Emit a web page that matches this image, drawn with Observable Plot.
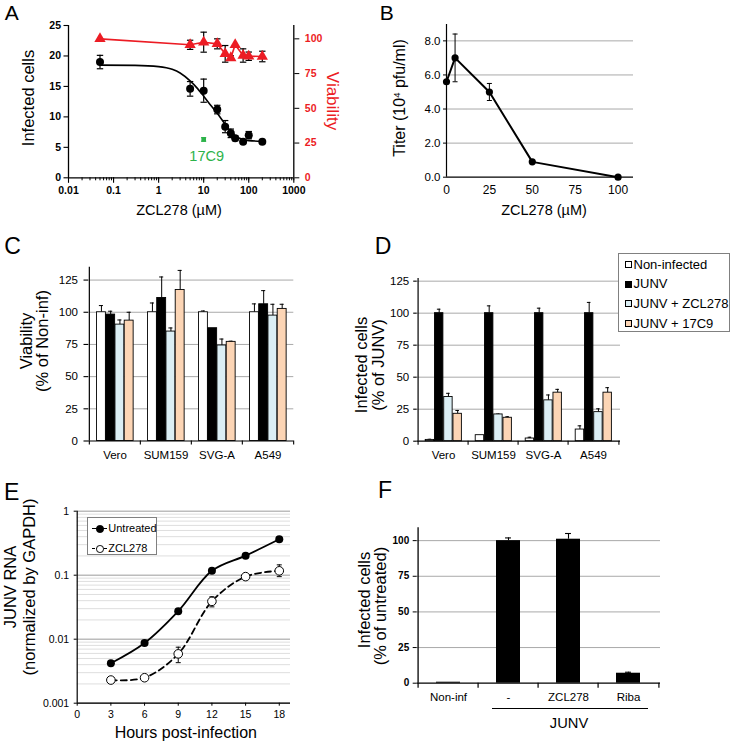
<!DOCTYPE html>
<html><head><meta charset="utf-8">
<script src="https://cdn.jsdelivr.net/npm/d3@7"></script>
<script src="https://cdn.jsdelivr.net/npm/@observablehq/plot@0.6"></script>
<style>
body{margin:0;background:#fff}
#root{position:relative;width:733px;height:743px;background:#fff;overflow:hidden;font-family:"Liberation Sans",Arial,sans-serif;color:#000}
.lbl{position:absolute;white-space:nowrap;line-height:1.1}
.panel{position:absolute}
sup{font-size:0.6em;vertical-align:0.55em;line-height:0}
</style></head><body><div id="root"></div>
<script>
// ---------- DATA ----------
// Panel A
const aDoses = [0.05, 5, 10, 20, 30, 40, 50, 75, 100, 200];
const aInfected = [19.0, 14.6, 14.3, 11.2, 8.4, 7.3, 6.5, 5.9, 7.0, 5.9];
const aInfectedErr = [1.1, 1.2, 1.9, 0.7, 1.0, 0.7, 0.4, 0, 0.6, 0];
const aViability = [100, 95.7, 97.6, 96.4, 89.2, 86.3, 95.7, 88.0, 87.5, 87.3];
const aViabilityErr = [0, 3.3, 7.2, 3.6, 6, 1.5, 0, 4.8, 3, 3.8];
const aFitDose = [0.05, 0.3, 1, 2, 3, 5, 7, 10, 14, 20, 30, 40, 50, 75, 100, 200];
const aFitInfected = [18.5, 18.45, 18.25, 17.8, 17.2, 15.9, 14.8, 13.4, 12.0, 10.6, 8.8, 7.6, 6.9, 6.3, 6.1, 6.0];
const a17C9Dose = [10];
const a17C9Infected = [6.3];
const a17C9Err = [0.3];
const aXTicks = [0.01, 0.1, 1, 10, 100, 1000];
const aYTicks = [0, 5, 10, 15, 20, 25];
const aViaTicks = [0, 25, 50, 75, 100];
// Panel B
const bDoses = [0, 5, 25, 50, 100];
const bTiter = [5.6, 7.0, 5.0, 0.9, 0.0];
const bTiterErr = [0, 1.4, 0.5, 0, 0];
const bXTicks = [0, 25, 50, 75, 100];
const bYTicks = [0, 2, 4, 6, 8];
// Panels C & D
const cellLines = ["Vero", "SUM159", "SVG-A", "A549"];
const treatments = ["Non-infected", "JUNV", "JUNV + ZCL278", "JUNV + 17C9"];
const cNonInf = [100, 100, 100, 100];
const cNonInfErr = [5.2, 7.2, 1, 6.5];
const cJunv = [98.2, 111.1, 87.6, 106.2];
const cJunvErr = [2.6, 16.3, 0, 10.6];
const cZcl = [90.4, 85.0, 74.2, 97.4];
const cZclErr = [3.6, 2.8, 5, 8.8];
const c17c9 = [93.5, 117.3, 77.0, 102.6];
const c17c9Err = [6.5, 15.2, 0.5, 3.6];
const cYTicks = [0, 25, 50, 75, 100, 125];
const dNonInf = [1.0, 4.7, 2.1, 9.1];
const dNonInfErr = [0.5, 0, 1, 2.9];
const dJunv = [100, 100, 100, 100];
const dJunvErr = [3.1, 5.7, 3.9, 8.4];
const dZcl = [34.5, 20.9, 31.9, 22.7];
const dZclErr = [2.9, 0.3, 4.2, 2.6];
const d17c9 = [21.4, 18.3, 37.9, 37.9];
const d17c9Err = [2.6, 0.8, 2.6, 3.9];
// Panel E
const eHours = [3, 6, 9, 12, 15, 18];
const eUntreated = [0.0042, 0.0087, 0.0274, 0.117, 0.202, 0.365];
const eZcl = [0.0023, 0.0025, 0.0059, 0.039, 0.095, 0.117];
const eZclLo = [null, null, 0.0043, 0.032, null, 0.095];
const eZclHi = [null, null, 0.0075, 0.046, null, 0.145];
const eXTicks = [0, 3, 6, 9, 12, 15, 18];
const eYTicks = [0.001, 0.01, 0.1, 1];
// Panel F
const fCats = ["Non-inf", "-", "ZCL278", "Riba"];
const fValues = [0.7, 100, 101, 7];
const fErr = [0, 1.9, 4, 0.7];
const fYTicks = [0, 25, 50, 75, 100];

// ---------- HELPERS ----------
const FONT = '"Liberation Sans", Arial, sans-serif';
const RED = "#ec1c24";
const GRID = "#a9a9a9";
const SERIES_COLORS = ["#ffffff", "#000000", "#dbeef4", "#fcd5b5"];
const root = document.getElementById("root");
const baseStyle = {background: "transparent", fontFamily: FONT, overflow: "visible", color: "#000"};
function place(node, left, top, w, h) {
  const d = document.createElement("div");
  d.className = "panel";
  Object.assign(d.style, {left: left + "px", top: top + "px", width: w + "px", height: h + "px"});
  d.appendChild(node);
  root.appendChild(d);
}
function label(html, x, y, {size = 16, rot = 0, color = "#000", weight = "normal"} = {}) {
  const d = document.createElement("div");
  d.className = "lbl";
  d.innerHTML = html;
  Object.assign(d.style, {left: x + "px", top: y + "px", fontSize: size + "px", color, fontWeight: weight,
    transform: `translate(-50%,-50%) rotate(${rot}deg)`});
  root.appendChild(d);
}
const capSymbol = {draw(ctx, size) { const r = Math.sqrt(size / Math.PI); ctx.moveTo(-r, 0); ctx.lineTo(r, 0); }};
function errMarks(rows, {x, lo, hi, cap = 3, color = "#000", width = 1.2}) {
  const r = rows.filter(d => hi(d) != null && hi(d) !== lo(d));
  return [
    Plot.ruleX(r, {x, y1: lo, y2: hi, stroke: color, strokeWidth: width}),
    Plot.dot(r, {x, y: hi, symbol: capSymbol, r: cap, stroke: color, strokeWidth: width}),
    Plot.dot(r, {x, y: lo, symbol: capSymbol, r: cap, stroke: color, strokeWidth: width})
  ];
}

// ---------- PANEL A ----------
{
  const W = 340, H = 200, M = {marginLeft: 68, marginRight: 46.7, marginTop: 25, marginBottom: 22.7};
  const rows = aDoses.map((d, i) => ({dose: d, v: aInfected[i], e: aInfectedErr[i]}));
  const fit = aFitDose.map((d, i) => ({dose: d, v: aFitInfected[i]}));
  const green = a17C9Dose.map((d, i) => ({dose: d, v: a17C9Infected[i], e: a17C9Err[i]}));
  const main = Plot.plot({
    width: W, height: H, ...M, style: baseStyle,
    x: {type: "log", domain: [0.01, 1000]}, y: {domain: [0, 25]},
    marks: [
      Plot.axisX({ticks: 10, tickSize: 3, tickFormat: () => "", label: null, strokeWidth: 1}),
      Plot.axisX({ticks: aXTicks, tickSize: 5.5, tickPadding: 3, tickFormat: d => String(d), fontSize: 10.5, fontWeight: "bold", label: null, strokeWidth: 1.1}),
      Plot.axisY({ticks: aYTicks, tickSize: 4.5, tickPadding: 3, fontSize: 10.5, fontWeight: "bold", label: null, strokeWidth: 1.1}),
      Plot.ruleY([0], {strokeWidth: 1.3}),
      Plot.ruleX([0.01], {strokeWidth: 1.3}),
      Plot.ruleX([1000], {strokeWidth: 1.3}),
      Plot.line(fit, {x: "dose", y: "v", curve: "monotone-x", stroke: "#000", strokeWidth: 1.6}),
      ...errMarks(rows.filter(d => d.e > 0), {x: "dose", lo: d => d.v - d.e, hi: d => d.v + d.e, cap: 3.2}),
      Plot.dot(rows, {x: "dose", y: "v", r: 4, fill: "#000"}),
      ...errMarks(green, {x: "dose", lo: d => d.v - d.e, hi: d => d.v + d.e, cap: 2.5, color: "#2db34a"}),
      Plot.dot(green, {x: "dose", y: "v", symbol: "square", r: 2.6, fill: "#2db34a"}),
      Plot.text(green, {x: "dose", y: "v", text: () => "17C9", dy: 17, dx: 3, fill: "#2db34a", fontSize: 14.5})
    ]
  });
  place(main, 0, 0, W, H);
  const red = aDoses.map((d, i) => ({dose: d, v: aViability[i], e: aViabilityErr[i]}));
  const over = Plot.plot({
    width: W, height: H, ...M, style: baseStyle,
    x: {type: "log", domain: [0.01, 1000], axis: null}, y: {domain: [0, 109.6]},
    marks: [
      Plot.axisY({anchor: "right", ticks: aViaTicks, tickSize: 5, tickPadding: 6, stroke: "#000", fill: RED, fontSize: 10.5, fontWeight: "bold", label: null}),
      Plot.line(red, {x: "dose", y: "v", stroke: RED, strokeWidth: 1.6}),
      ...errMarks(red.filter(d => d.e > 0), {x: "dose", lo: d => d.v - d.e, hi: d => d.v + d.e, cap: 3.2}),
      Plot.dot(red, {x: "dose", y: "v", symbol: "triangle", r: 4.2, fill: RED})
    ]
  });
  place(over, 0, 0, W, H);
}

// ---------- PANEL B ----------
{
  const W = 260, H = 200;
  const rows = bDoses.map((d, i) => ({dose: d, v: bTiter[i], e: bTiterErr[i]}));
  const p = Plot.plot({
    width: W, height: H, marginLeft: 66, marginRight: 7, marginTop: 24, marginBottom: 23.3, style: baseStyle,
    x: {domain: [0, 109]}, y: {domain: [0, 8.96]},
    marks: [
      Plot.gridY({ticks: [2, 4, 6, 8], stroke: GRID, strokeOpacity: 1, strokeWidth: 1}),
      Plot.ruleX([0], {strokeWidth: 1.2}),
      Plot.ruleY([0], {strokeWidth: 1.2}),
      Plot.axisY({ticks: bYTicks, tickSize: 3, tickPadding: 3, tickFormat: d => d.toFixed(1), fontSize: 11.5, label: null}),
      Plot.axisX({ticks: bXTicks, tickSize: 0, tickPadding: 8, fontSize: 12, label: null}),
      Plot.line(rows, {x: "dose", y: "v", stroke: "#000", strokeWidth: 2}),
      ...errMarks(rows.filter(d => d.e > 0), {x: "dose", lo: d => d.v - d.e, hi: d => d.v + d.e, cap: 2.5, width: 1}),
      Plot.dot(rows, {x: "dose", y: "v", r: 3.6, fill: "#000"})
    ]
  });
  place(p, 380, 0, W, H);
}

// ---------- PANELS C & D ----------
function groupedPanel({W, H, margins, yMax, values, errs, left, top, tickSize, tickPadding}) {
  const plotW = W - margins.marginLeft - margins.marginRight;
  const plotH = H - margins.marginTop - margins.marginBottom;
  const bw = plotW / cellLines.length;
  const barW = 9.25;
  const off = (bw - barW * treatments.length) / 2 + 0.3;
  const marks = [
    Plot.gridY({ticks: [25, 50, 75, 100, 125], stroke: GRID, strokeOpacity: 1, strokeWidth: 1}),
  ];
  values.forEach((vals, i) => {
    const rows = cellLines.map((g, j) => ({group: g, v: vals[j], hi: vals[j] + errs[i][j], e: errs[i][j]}));
    const center = off + (i + 0.5) * barW;
    marks.push(
      Plot.ruleX(rows.filter(d => d.e > 0), {x: "group", y1: "v", y2: "hi", dx: center - bw / 2, strokeWidth: 1}),
      Plot.tickY(rows.filter(d => d.e > 0), {x: "group", y: "hi", insetLeft: center - 2.2, insetRight: bw - center - 2.2, strokeWidth: 1}),
      Plot.barY(rows, {x: "group", y: "v", fill: SERIES_COLORS[i], stroke: "#000", strokeWidth: 0.9,
        insetLeft: off + i * barW, insetRight: bw - off - (i + 1) * barW})
    );
  });
  marks.push(
    Plot.ruleY([0], {strokeWidth: 1.2}),
    Plot.ruleX([cellLines[0]], {dx: -bw / 2, strokeWidth: 1.2}),
    Plot.ruleX(cellLines, {dx: -bw / 2, insetTop: plotH, insetBottom: -4, strokeWidth: 1.1}),
    Plot.ruleX([cellLines[cellLines.length - 1]], {dx: bw / 2, insetTop: plotH, insetBottom: -4, strokeWidth: 1.1}),
    Plot.axisY({ticks: cYTicks, tickSize, tickPadding, fontSize: 11.5, label: null, strokeWidth: 1.1}),
    Plot.axisX({tickSize: 0, tickPadding: 10, fontSize: 11.5, label: null})
  );
  const p = Plot.plot({
    width: W, height: H, ...margins, style: baseStyle,
    x: {domain: cellLines, padding: 0}, y: {domain: [0, yMax]},
    marks
  });
  place(p, left, top, W, H);
}
groupedPanel({W: 300, H: 220, margins: {marginLeft: 88, marginRight: 6.7, marginTop: 16.7, marginBottom: 29.5}, yMax: 135,
  values: [cNonInf, cJunv, cZcl, c17c9], errs: [cNonInfErr, cJunvErr, cZclErr, c17c9Err], left: 0, top: 250, tickSize: 4.5, tickPadding: 6});
groupedPanel({W: 260, H: 220, margins: {marginLeft: 46.7, marginRight: 10, marginTop: 28.1, marginBottom: 29.3}, yMax: 127,
  values: [dNonInf, dJunv, dZcl, d17c9], errs: [dNonInfErr, dJunvErr, dZclErr, d17c9Err], left: 370, top: 250, tickSize: 3.5, tickPadding: 4.5});

// ---------- PANEL E ----------
{
  const W = 300, H = 235;
  const un = eHours.map((h, i) => ({h, v: eUntreated[i]}));
  const zc = eHours.map((h, i) => ({h, v: eZcl[i], lo: eZclLo[i], hi: eZclHi[i]}));
  const p = Plot.plot({
    width: W, height: H, marginLeft: 76.7, marginRight: 10, marginTop: 15.7, marginBottom: 27.3, style: baseStyle,
    x: {domain: [0, 19]}, y: {type: "log", domain: [0.001, 1]},
    marks: [
      Plot.gridY({ticks: 10, stroke: "#dedede", strokeOpacity: 1, strokeWidth: 1}),
      Plot.gridY({ticks: eYTicks, stroke: GRID, strokeOpacity: 1, strokeWidth: 1}),
      Plot.ruleX([0], {strokeWidth: 1.2}),
      Plot.ruleY([0.001], {strokeWidth: 1.2}),
      Plot.axisY({ticks: eYTicks, tickSize: 3, tickPadding: 5, tickFormat: d => String(d), fontSize: 10.5, label: null}),
      Plot.axisX({ticks: eXTicks, tickSize: 3, tickPadding: 4, fontSize: 10.5, label: null}),
      Plot.line(un, {x: "h", y: "v", curve: "catmull-rom", stroke: "#000", strokeWidth: 1.8}),
      Plot.line(zc, {x: "h", y: "v", curve: "catmull-rom", stroke: "#000", strokeWidth: 1.8, strokeDasharray: "6,4"}),
      ...errMarks(zc.filter(d => d.hi != null), {x: "h", lo: d => d.lo, hi: d => d.hi, cap: 2.5, width: 1}),
      Plot.dot(un, {x: "h", y: "v", r: 4, fill: "#000"}),
      Plot.dot(zc, {x: "h", y: "v", r: 4.3, fill: "#fff", stroke: "#000", strokeWidth: 1})
    ]
  });
  place(p, 0, 495, W, H);
}

// ---------- PANEL F ----------
{
  const W = 300, H = 200, M = {marginLeft: 46.7, marginRight: 10, marginTop: 7.3, marginBottom: 37.3};
  const plotW = W - M.marginLeft - M.marginRight, plotH = H - M.marginTop - M.marginBottom;
  const step = plotW / fCats.length;
  const pi = 0.594;
  const bw = step * (1 - pi);
  const rows = fCats.map((c, i) => ({c, v: fValues[i], hi: fValues[i] + fErr[i], e: fErr[i]}));
  const p = Plot.plot({
    width: W, height: H, ...M, style: baseStyle,
    x: {domain: fCats, paddingInner: pi, paddingOuter: pi / 2}, y: {domain: [0, 109]},
    marks: [
      Plot.gridY({ticks: [25, 50, 75, 100], stroke: GRID, strokeOpacity: 1, strokeWidth: 1}),
      Plot.ruleX(rows.filter(d => d.e > 0), {x: "c", y1: "v", y2: "hi", strokeWidth: 1.1}),
      Plot.tickY(rows.filter(d => d.e > 0), {x: "c", y: "hi", insetLeft: bw / 2 - 3.3, insetRight: bw / 2 - 3.3, strokeWidth: 1.1}),
      Plot.barY(rows, {x: "c", y: "v", fill: "#000"}),
      Plot.ruleY([0], {strokeWidth: 1.3}),
      Plot.ruleX([fCats[0]], {dx: -step / 2, strokeWidth: 1.3}),
      Plot.ruleX(fCats, {dx: -step / 2, insetTop: plotH, insetBottom: -5, strokeWidth: 1.2}),
      Plot.ruleX([fCats[fCats.length - 1]], {dx: step / 2, insetTop: plotH, insetBottom: -5, strokeWidth: 1.2}),
      Plot.axisY({ticks: fYTicks, tickSize: 4, tickPadding: 4, fontSize: 10, fontWeight: "bold", label: null}),
      Plot.axisX({tickSize: 0, tickPadding: 10, fontSize: 11.5, label: null})
    ]
  });
  place(p, 370, 520, W, H);
  const line = document.createElement("div");
  Object.assign(line.style, {position: "absolute", left: "491.7px", top: "707.8px", width: "156.6px", height: "1px", background: "#000"});
  root.appendChild(line);
}

// ---------- LEGENDS ----------
{
  const box = document.createElement("div");
  Object.assign(box.style, {position: "absolute", left: "618px", top: "253px", width: "112px", height: "79px",
    border: "1px solid #808080", background: "#fff", boxSizing: "border-box"});
  treatments.forEach((t, i) => {
    const sw = document.createElement("div");
    Object.assign(sw.style, {position: "absolute", left: "5.5px", top: (7 + i * 19.7) + "px", width: "7px", height: "7px",
      border: "1px solid #000", background: SERIES_COLORS[i], boxSizing: "border-box"});
    box.appendChild(sw);
    const tx = document.createElement("div");
    Object.assign(tx.style, {position: "absolute", left: "14.5px", top: (3.5 + i * 19.7) + "px", fontSize: "13px", lineHeight: "1", whiteSpace: "nowrap"});
    tx.textContent = t;
    box.appendChild(tx);
  });
  root.appendChild(box);

  const eb = document.createElement("div");
  Object.assign(eb.style, {position: "absolute", left: "87.3px", top: "517.3px", width: "70px", height: "38px",
    border: "1px solid #808080", background: "#fff", boxSizing: "border-box"});
  const entries = [{t: "Untreated", dash: false}, {t: "ZCL278", dash: true}];
  entries.forEach((e, i) => {
    const cy = 10.5 + i * 20;
    const ln = document.createElement("div");
    Object.assign(ln.style, {position: "absolute", left: "4px", top: (cy - 0.9) + "px", width: "15px", height: "0",
      borderTop: e.dash ? "1.6px dashed #000" : "1.8px solid #000"});
    eb.appendChild(ln);
    const mk = document.createElement("div");
    Object.assign(mk.style, {position: "absolute", left: (11.5 - 3.8) + "px", top: (cy - 3.8) + "px", width: "7.6px", height: "7.6px",
      borderRadius: "50%", boxSizing: "border-box", border: "1px solid #000", background: e.dash ? "#fff" : "#000"});
    eb.appendChild(mk);
    const tx = document.createElement("div");
    Object.assign(tx.style, {position: "absolute", left: "20px", top: (cy - 5.5) + "px", fontSize: "11px", lineHeight: "1", whiteSpace: "nowrap"});
    tx.textContent = e.t;
    eb.appendChild(tx);
  });
  root.appendChild(eb);
}

// ---------- TEXT ----------
label("A", 11.7, 12.5, {size: 21});
label("B", 386.7, 12.5, {size: 21});
label("C", 12.5, 246.5, {size: 23});
label("D", 383, 247, {size: 23});
label("E", 11.7, 492.7, {size: 23});
label("F", 385, 491, {size: 23});
label("Infected cells", 27.5, 98.3, {size: 16.5, rot: -90});
label("Viability", 331.7, 100.8, {size: 17, rot: 90, color: RED});
label("ZCL278 (µM)", 179, 210.5, {size: 14.5});
label("ZCL278 (µM)", 544, 210.5, {size: 14.5});
label("Titer (10<sup>4</sup> pfu/ml)", 400, 98.3, {size: 16, rot: -90});
label("Viability", 25.8, 340.7, {size: 16.5, rot: -90});
label("(% of Non-inf)", 41.5, 340.7, {size: 16.5, rot: -90});
label("Infected cells", 361, 365, {size: 16.5, rot: -90});
label("(% of JUNV)", 378, 365, {size: 16.5, rot: -90});
label("JUNV RNA", 9.7, 586.7, {size: 16.5, rot: -90});
label("(normalized by GAPDH)", 29, 586.7, {size: 16.5, rot: -90});
label("Hours post-infection", 185.8, 733.3, {size: 16});
label("Infected cells", 364, 600, {size: 16.5, rot: -90});
label("(% of untreated)", 379.5, 606, {size: 16.5, rot: -90});
label("JUNV", 569, 723.3, {size: 14.7});
</script></body></html>
